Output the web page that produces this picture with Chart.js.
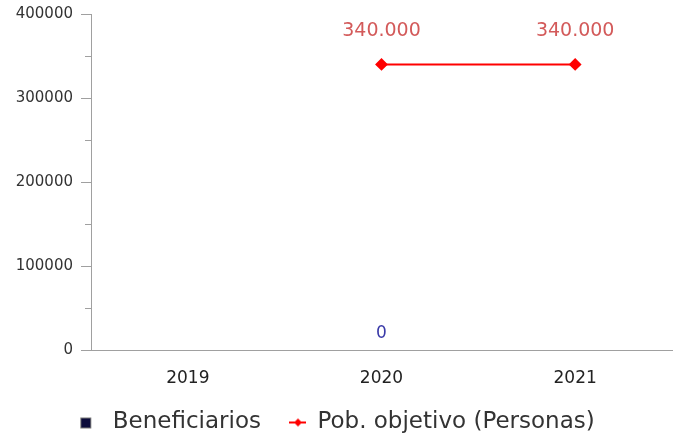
<!DOCTYPE html>
<html>
<head>
<meta charset="utf-8">
<script src="https://cdn.jsdelivr.net/npm/chart.js@4/dist/chart.umd.min.js"></script>
<style>
html, body { margin: 0; padding: 0; background: #fff; }
#wrap { width: 682px; height: 439px; }
</style>
</head>
<body>
<div id="wrap"><canvas id="chart"></canvas></div>
<script>
const years = ['2019', '2020', '2021'];
const beneficiarios = [null, 0, null];
const pobObjetivo = [null, 340000, 340000];
const yTicks = [0, 100000, 200000, 300000, 400000];
const yMinorTicks = [50000, 150000, 250000, 350000];

const NAVY = '#0b0b3b';
const RED = '#ff0000';
const AXIS = '#a0a0a0';
const FONT = 'DejaVu Sans';

function formatNum(v) {
  return v.toString().replace(/\B(?=(\d{3})+(?!\d))/g, '.');
}

function legendIcon(draw) {
  const c = document.createElement('canvas');
  c.width = 24;
  c.height = 14;
  draw(c.getContext('2d'));
  return c;
}
const squareIcon = legendIcon(ctx => {
  ctx.fillStyle = NAVY;
  ctx.fillRect(3, 2, 11, 11);
  ctx.strokeStyle = '#777';
  ctx.lineWidth = 1;
  ctx.strokeRect(3.5, 2.5, 10, 10);
});
const lineIcon = legendIcon(ctx => {
  ctx.strokeStyle = RED;
  ctx.lineWidth = 2;
  ctx.beginPath();
  ctx.moveTo(7, 7);
  ctx.lineTo(24, 7);
  ctx.stroke();
  ctx.fillStyle = RED;
  ctx.beginPath();
  ctx.moveTo(16, 3);
  ctx.lineTo(20, 7);
  ctx.lineTo(16, 11);
  ctx.lineTo(12, 7);
  ctx.closePath();
  ctx.fill();
});

// value labels above bars / points
const valueLabels = {
  id: 'valueLabels',
  afterDatasetsDraw(chart) {
    const ctx = chart.ctx;
    ctx.save();
    ctx.textAlign = 'center';
    ctx.textBaseline = 'middle';
    chart.data.datasets.forEach((ds, i) => {
      const meta = chart.getDatasetMeta(i);
      meta.data.forEach((el, j) => {
        const v = ds.data[j];
        if (v === null) return;
        if (ds.type === 'line') {
          ctx.font = '19px "' + FONT + '"';
          ctx.fillStyle = '#d35a5a';
          ctx.fillText(formatNum(v), el.x, el.y - 33);
        } else {
          ctx.font = '17px "' + FONT + '"';
          ctx.fillStyle = '#3a3aa8';
          ctx.fillText(formatNum(v), el.x, el.y - 16);
        }
      });
    });
    ctx.restore();
  }
};

// short minor ticks on the y axis
const minorTicks = {
  id: 'minorTicks',
  afterDraw(chart) {
    const y = chart.scales.y;
    const ctx = chart.ctx;
    ctx.save();
    ctx.strokeStyle = AXIS;
    ctx.lineWidth = 1;
    yMinorTicks.forEach(v => {
      const py = Math.round(y.getPixelForValue(v)) + 0.5;
      ctx.beginPath();
      ctx.moveTo(y.right - 6, py);
      ctx.lineTo(y.right, py);
      ctx.stroke();
    });
    ctx.restore();
  }
};

const config = {
  type: 'bar',
  data: {
    labels: years,
    datasets: [
      {
        type: 'bar',
        label: 'Beneficiarios',
        data: beneficiarios,
        backgroundColor: NAVY,
        order: 2,
      },
      {
        type: 'line',
        label: 'Pob. objetivo (Personas)',
        data: pobObjetivo,
        borderColor: RED,
        backgroundColor: RED,
        borderWidth: 2,
        pointStyle: 'rectRot',
        pointRadius: 5,
        pointHoverRadius: 5,
        order: 1,
      },
    ],
  },
  options: {
    responsive: true,
    maintainAspectRatio: false,
    animation: false,
    layout: { padding: { top: 14, right: 10, left: 0, bottom: -5 } },
    plugins: {
      tooltip: { enabled: false },
      legend: {
        position: 'bottom',
        labels: {
          usePointStyle: true,
          pointStyleWidth: 24,
          padding: 21,
          color: '#333',
          font: { family: FONT, size: 23 },
          generateLabels: () => [
            { text: 'Beneficiarios', pointStyle: squareIcon, fillStyle: NAVY, strokeStyle: NAVY, lineWidth: 0, datasetIndex: 0, fontColor: '#333' },
            { text: 'Pob. objetivo (Personas)', pointStyle: lineIcon, fillStyle: RED, strokeStyle: RED, lineWidth: 0, datasetIndex: 1, fontColor: '#333' },
          ],
        },
      },
    },
    scales: {
      x: {
        grid: { display: true, drawOnChartArea: false, drawTicks: false, color: AXIS },
        border: { color: AXIS, width: 1 },
        ticks: { color: '#222', padding: 18, font: { family: FONT, size: 17 } },
        afterFit: s => { s.height = 40; },
      },
      y: {
        min: 0,
        max: 400000,
        afterBuildTicks: s => { s.ticks = yTicks.map(v => ({ value: v })); },
        grid: { drawOnChartArea: false, tickLength: 10, color: AXIS },
        border: { color: AXIS, width: 1 },
        ticks: { color: '#333', padding: 8, font: { family: FONT, size: 15 }, callback: v => String(v) },
        afterFit: s => { s.width = 91; s.paddingTop = 0; s.paddingBottom = 0; },
      },
    },
  },
  plugins: [valueLabels, minorTicks],
};

new Chart(document.getElementById('chart'), config);
</script>
</body>
</html>
